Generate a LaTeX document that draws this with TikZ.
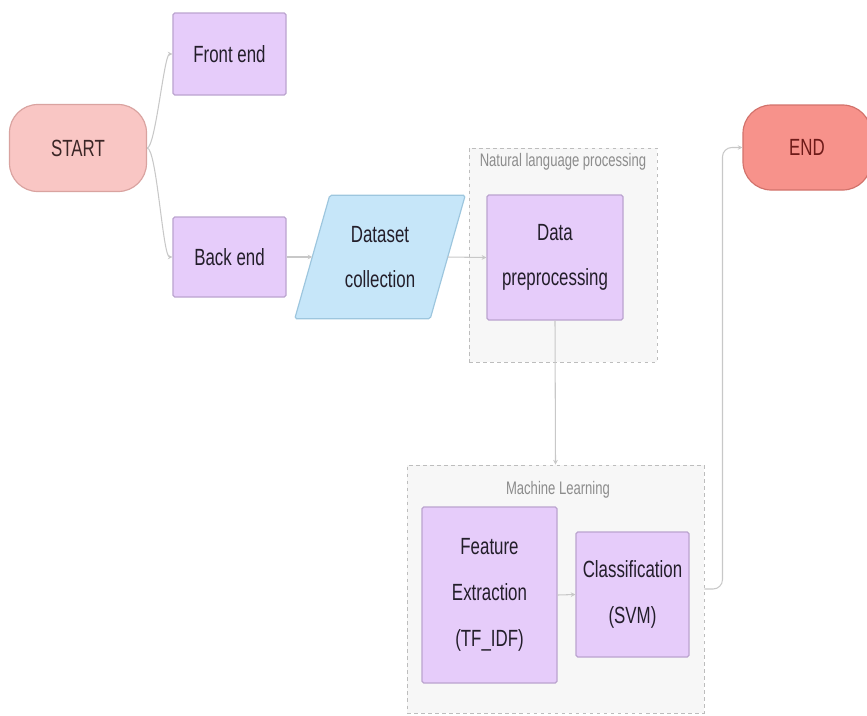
\documentclass[tikz,border=0pt]{standalone}
\usepackage{fontspec}
\newfontfamily\boxfont{Liberation Sans}[FakeStretch=0.72]
\usetikzlibrary{arrows.meta,backgrounds}

\definecolor{startpink}{HTML}{F9C6C4}
\definecolor{startline}{HTML}{D9A3A0}
\definecolor{starttext}{HTML}{3B2626}
\definecolor{endred}{HTML}{F7928B}
\definecolor{endline}{HTML}{D2726B}
\definecolor{endtext}{HTML}{6E1A18}
\definecolor{stepfill}{HTML}{E6CCFA}
\definecolor{stepline}{HTML}{BBA4CF}
\definecolor{datafill}{HTML}{C6E6F9}
\definecolor{dataline}{HTML}{9DC6DE}
\definecolor{groupfill}{HTML}{F7F7F7}
\definecolor{groupline}{HTML}{BDBDBD}
\definecolor{grouptext}{HTML}{8C8C8C}
\definecolor{linkgray}{HTML}{C8C8C8}
\definecolor{textdark}{HTML}{231E2A}

\tikzset{
  boxtext/.style={font={\boxfont\fontsize{20}{39}\selectfont}, text=textdark, align=center, inner sep=0pt},
  terminal/.style={boxtext, line width=1pt, rounded corners=0.85cm},
  stepbox/.style={boxtext, draw=stepline, fill=stepfill, line width=1pt, rounded corners=1.5pt},
  groupbox/.style={draw=groupline, fill=groupfill, dashed, line width=0.8pt, inner sep=0pt},
  grouplabel/.style={font={\boxfont\fontsize{15.5}{18}\selectfont}, text=grouptext, inner sep=0pt},
  link/.style={draw=linkgray, line width=0.9pt, -{Stealth[length=4pt,width=4pt]}}
}

\begin{document}
\begin{tikzpicture}[x=0.03cm, y=-0.03cm]
\useasboundingbox (0,0) rectangle (867,715);
% groups
\node[groupbox, minimum width=5.64cm, minimum height=6.42cm] (nlp) at (563,255) {};
\node[grouplabel] (nlp_label) at (563,162) {Natural language processing};
\node[groupbox, minimum width=8.91cm, minimum height=7.44cm] (ml) at (555.5,589) {};
\node[grouplabel] (ml_label) at (558,490) {Machine Learning};
% boxes
\node[terminal, draw=startline, fill=startpink, text=starttext, minimum width=4.11cm, minimum height=2.61cm] (start) at (78,148) {START};
\node[stepbox, minimum width=3.39cm, minimum height=2.46cm] (front) at (229.5,54) {Front end};
\node[stepbox, minimum width=3.39cm, minimum height=2.4cm] (back) at (229.5,257) {Back end};
\node[boxtext, minimum width=4.05cm, minimum height=3.69cm] (dataset) at (380,257) {Dataset\\collection};
\begin{scope}[on background layer]
\filldraw[draw=dataline, fill=datafill, line width=1pt, rounded corners=1.5pt]
  ([xshift=-0.525cm]dataset.south west) -- ([xshift=0.525cm]dataset.north west)
  -- ([xshift=0.525cm]dataset.north east) -- ([xshift=-0.525cm]dataset.south east) -- cycle;
\end{scope}
\node[stepbox, minimum width=4.08cm, minimum height=3.75cm] (dp) at (555,257.5) {Data\\preprocessing};
\node[stepbox, minimum width=4.05cm, minimum height=5.28cm] (fe) at (489.5,595) {Feature\\Extraction\\(TF\_IDF)};
\node[stepbox, minimum width=3.39cm, minimum height=3.75cm] (cl) at (632.5,594.5) {Classification\\(SVM)};
\node[terminal, draw=endline, fill=endred, text=endtext, minimum width=3.84cm, minimum height=2.55cm] (end) at (807,147.5) {END};
% links
\draw[link] (start.east) to[out=0, in=180, looseness=0.22] (front.west);
\draw[link] (start.east) to[out=0, in=180, looseness=0.22] (back.west);
\draw[link] (back.east) -- (dataset.west);
\draw[link] (dataset.east) -- (dp.west);
\draw[link] (dp.south) -- (ml.north);
\draw[link] (fe.east) -- (cl.west);
\draw[link, rounded corners=8pt] (ml.east) -- ++(18,0) |- (end.west);
\end{tikzpicture}
\end{document}
